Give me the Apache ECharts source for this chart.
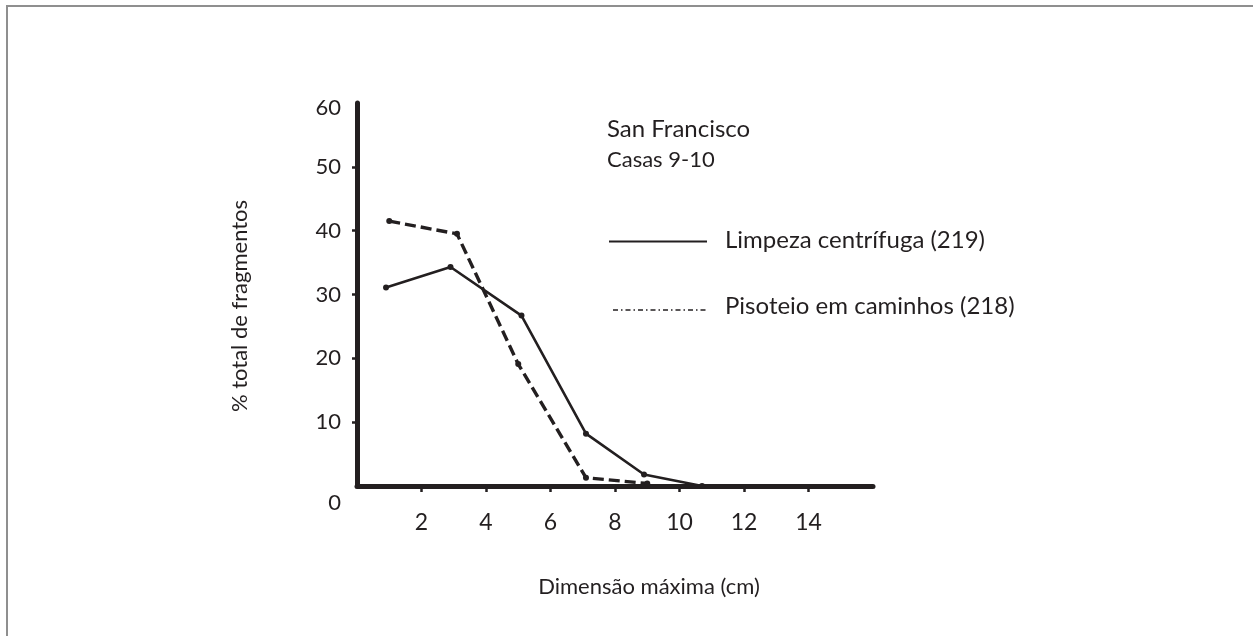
<!DOCTYPE html>
<html>
<head>
<meta charset="utf-8">
<script src="https://cdn.jsdelivr.net/npm/echarts@6/dist/echarts.min.js"></script>
<style>
html,body{margin:0;padding:0;background:#fff;}
#chart{width:1253px;height:636px;}
</style>
</head>
<body>
<div id="chart"></div>
<script>
// ---- data ----
const seriesNames = ['Limpeza centrífuga (219)', 'Pisoteio em caminhos (218)'];
const limpezaX = [0.9, 2.9, 5.1, 7.1, 8.9, 10.7];
const limpezaY = [31.1, 34.3, 26.7, 8.2, 1.8, 0];
const pisoteioX = [1.0, 3.1, 5.0, 7.1, 9.0];
const pisoteioY = [41.5, 39.5, 19.1, 1.3, 0.4];
const xTickLabels = [2, 4, 6, 8, 10, 12, 14];
const yTickLabels = [0, 10, 20, 30, 40, 50, 60];
const yTickMarks = [10, 20, 30, 40, 50];
const titleMain = 'San Francisco';
const titleSub = 'Casas 9-10';
const xAxisTitle = 'Dimensão máxima (cm)';
const yAxisTitle = '% total de fragmentos';

const FONT = 'Lato';
const INK = '#231f20';

const chart = echarts.init(document.getElementById('chart'), null, {renderer: 'canvas'});

const option = {
  backgroundColor: '#ffffff',
  animation: false,
  textStyle: {fontFamily: FONT, color: INK},
  grid: {left: 357, right: 380, top: 103, bottom: 150, containLabel: false},
  xAxis: {
    type: 'value', min: 0, max: 16, interval: 2,
    axisLine: {show: true, lineStyle: {color: INK, width: 5, cap: 'round'}},
    axisTick: {show: true, length: 6, lineStyle: {color: INK, width: 2.5}, customValues: xTickLabels},
    axisLabel: {show: true, fontSize: 23, color: INK, fontFamily: FONT, margin: 25, customValues: xTickLabels},
    splitLine: {show: false}
  },
  yAxis: {
    type: 'value', min: 0, max: 60, interval: 10,
    axisLine: {show: true, lineStyle: {color: INK, width: 5, cap: 'round'}},
    axisTick: {show: true, length: 5, lineStyle: {color: INK, width: 2.5}, customValues: yTickMarks},
    axisLabel: {
      show: true, fontSize: 22, color: INK, fontFamily: FONT, margin: 16,
      customValues: yTickLabels,
      formatter: function (v) { return v === 0 ? '{z|0}' : (v === 60 ? '{t|60}' : String(v)); },
      rich: {
        z: {fontSize: 22, color: INK, fontFamily: FONT, padding: [34, 0, 0, 0]},
        t: {fontSize: 22, color: INK, fontFamily: FONT, padding: [10, 0, 0, 0]}
      }
    },
    splitLine: {show: false}
  },
  series: [
    {
      name: seriesNames[0], type: 'line',
      data: limpezaX.map((x, i) => [x, limpezaY[i]]),
      symbol: 'circle', symbolSize: 6,
      itemStyle: {color: INK},
      lineStyle: {color: INK, width: 2.6, type: 'solid'},
      z: 3
    },
    {
      name: seriesNames[1], type: 'line',
      data: pisoteioX.map((x, i) => [x, pisoteioY[i]]),
      symbol: 'circle', symbolSize: 6,
      itemStyle: {color: INK},
      lineStyle: {color: INK, width: 3.4, type: [11, 5]},
      z: 3
    }
  ],
  graphic: [
    // page frame (top and left only)
    {type: 'line', shape: {x1: 6, y1: 6, x2: 1253, y2: 6}, style: {stroke: '#8f8f8f', lineWidth: 2}},
    {type: 'line', shape: {x1: 7, y1: 5, x2: 7, y2: 636}, style: {stroke: '#8f8f8f', lineWidth: 2}},
    // titles
    {type: 'text', x: 607, y: 129, style: {text: titleMain, font: '24px ' + FONT, fill: INK, verticalAlign: 'middle'}},
    {type: 'text', x: 607, y: 160, style: {text: titleSub, font: '22px ' + FONT, fill: INK, verticalAlign: 'middle'}},
    // legend
    {type: 'line', shape: {x1: 609, y1: 241.5, x2: 707, y2: 241.5}, style: {stroke: INK, lineWidth: 2}},
    {type: 'text', x: 725, y: 240, style: {text: seriesNames[0], font: '24px ' + FONT, fill: INK, verticalAlign: 'middle'}},
    {type: 'line', shape: {x1: 613, y1: 310, x2: 707, y2: 310}, style: {stroke: INK, lineWidth: 1.5, lineDash: [5, 3, 1.5, 3]}},
    {type: 'text', x: 725, y: 306, style: {text: seriesNames[1], font: '24px ' + FONT, fill: INK, verticalAlign: 'middle'}},
    // axis titles
    {type: 'text', x: 649, y: 587, style: {text: xAxisTitle, font: '22px ' + FONT, fill: INK, align: 'center', verticalAlign: 'middle'}},
    {type: 'text', x: 240, y: 306, rotation: Math.PI / 2, style: {text: yAxisTitle, font: '22px ' + FONT, fill: INK, align: 'center', verticalAlign: 'middle'}}
  ]
};
chart.setOption(option);
</script>
</body>
</html>
